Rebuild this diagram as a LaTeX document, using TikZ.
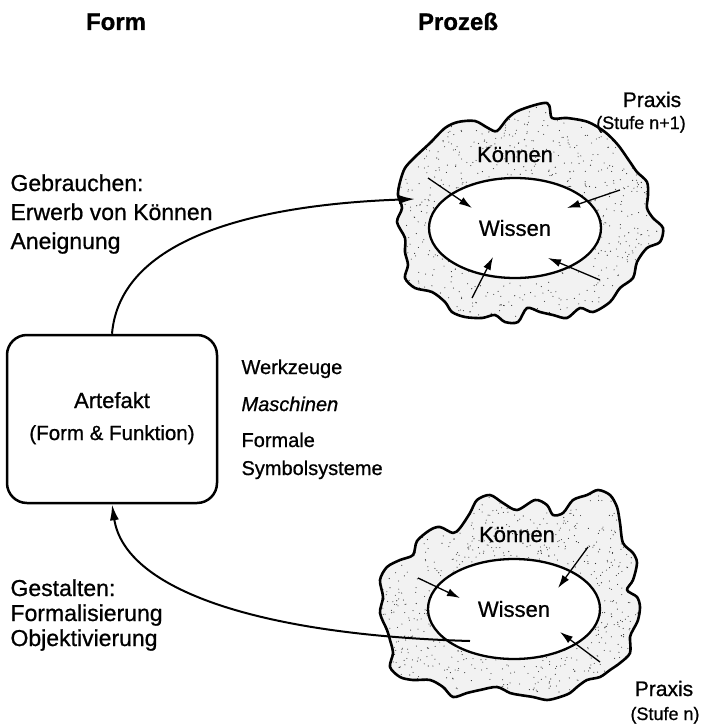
\documentclass[tikz,border=0pt]{standalone}
\usepackage{fontspec}
\setmainfont{Liberation Sans}[FakeBold=0.8]
\usetikzlibrary{arrows.meta,shapes.geometric}

% outline of the upper cloud (Praxis, Stufe n+1)
\newcommand\wolkeOben[1]{#1 plot[smooth cycle,tension=0.5] coordinates {
 (415,157) (430,143) (445,128) (458,122) (475,121) (488,128) (497,131) (508,118)
 (520,110) (547,103) (552,118) (567,118) (588,122) (605,132) (618,145) (630,162)
 (637,172) (647,182) (648,195) (647,208) (653,218) (663,228) (660,242) (647,248)
 (637,262) (633,278) (620,288) (610,302) (593,312) (580,308) (567,318) (553,315)
 (540,312) (527,308) (518,322) (505,322) (495,315) (482,318) (465,317) (452,312)
 (445,302) (432,292) (415,288) (405,278) (408,265) (405,252) (405,238) (397,222)
 (402,208) (398,195) (400,182) (405,168)};}

% outline of the lower cloud (Praxis, Stufe n)
\newcommand\wolkeUnten[1]{#1 plot[smooth cycle,tension=0.5] coordinates {
 (400,560) (413,555) (417,541) (430,530) (440,527) (453,533) (460,528) (470,513)
 (477,500) (490,495) (503,503) (517,510) (535,500) (547,505) (553,515) (563,513)
 (573,500) (587,495) (598,490) (610,495) (617,507) (620,523) (623,543) (633,553)
 (637,563) (633,580) (627,590) (637,597) (640,607) (638,620) (633,630) (630,637)
 (630,653) (620,663) (610,670) (600,677) (587,680) (577,687) (570,693) (560,697)
 (547,700) (533,697) (520,695) (510,693) (497,687) (480,690) (467,693) (453,697)
 (443,687) (430,680) (413,680) (400,677) (390,667) (393,653) (390,640) (387,630)
 (380,613) (383,597) (380,580) (387,567)};}

% stippled filling inside a cloud
\newcommand\punkte[4]{%
  \fill[black!5] (#1,#2) rectangle ({#1+#3},{#2+#4});
  \foreach \k in {1,...,1100}{
    \fill[black!80] ({#1+#3*rnd},{#2+#4*rnd}) circle (0.55pt);
  }}

\tikzset{
  cloudline/.style={line width=2.6pt, line join=round},
  kern/.style={ellipse, draw, line width=2.3pt, fill=white,
    minimum width=172pt, minimum height=100pt, inner sep=0pt,
    font=\fontsize{22}{26}\selectfont},
  koennen/.style={font=\fontsize{22}{26}\selectfont, anchor=base},
  smallarrow/.style={line width=1.3pt, -{Latex[length=13pt,width=8pt]}},
  bigarrow/.style={line width=2pt, -{Latex[length=16pt,width=9pt]}},
  titel/.style={font=\bfseries\fontsize{24}{28}\selectfont, anchor=base},
  seite/.style={font=\fontsize{23}{29}\selectfont, anchor=base west, align=left},
  liste/.style={font=\fontsize{20}{24}\selectfont, anchor=base west},
  praxis/.style={font=\fontsize{21}{25}\selectfont, anchor=base},
  stufe/.style={font=\fontsize{18}{21}\selectfont, anchor=base},
  artefakt/.style={draw, line width=2.5pt, rounded corners=20pt,
    minimum width=210pt, minimum height=168pt, align=center}
}

\begin{document}
\begin{tikzpicture}[x=1pt,y=-1pt]
\useasboundingbox (0,0) rectangle (710,725);
\pgfmathsetseed{11}

% headings
\node[titel] (form) at (116,30) {Form};
\node[titel] (prozess) at (458,30) {Prozeß};

% upper cloud
\begin{scope}
  \wolkeOben{\clip}
  \punkte{390}{95}{280}{235}
\end{scope}
\wolkeOben{\draw[cloudline]}
\node[kern] (wissenO) at (515,228) {Wissen};
\node[koennen] (koennenO) at (515,162) {Können};
\node[praxis] (praxisO) at (652,107) {Praxis};
\node[stufe] (stufeO) at (641,129) {(Stufe n+1)};

% lower cloud
\begin{scope}
  \wolkeUnten{\clip}
  \punkte{375}{485}{270}{220}
\end{scope}
\wolkeUnten{\draw[cloudline]}
\node[kern] (wissenU) at (514,609) {Wissen};
\node[koennen] (koennenU) at (517,542) {Können};
\node[praxis] (praxisU) at (664,696) {Praxis};
\node[stufe] (stufeU) at (665,720) {(Stufe n)};

% small arrows: Können flows into Wissen
\coordinate (o1s) at (428,178); \coordinate (o1e) at (472,208);
\coordinate (o2s) at (620,190); \coordinate (o2e) at (567,208);
\coordinate (o3s) at (600,280); \coordinate (o3e) at (548,258);
\coordinate (o4s) at (472,298); \coordinate (o4e) at (493,257);
\draw[smallarrow] (o1s) -- (o1e);
\draw[smallarrow] (o2s) -- (o2e);
\draw[smallarrow] (o3s) -- (o3e);
\draw[smallarrow] (o4s) -- (o4e);

\coordinate (u1s) at (418,578); \coordinate (u1e) at (460,598);
\coordinate (u2s) at (588,547); \coordinate (u2e) at (558,588);
\coordinate (u3s) at (600,662); \coordinate (u3e) at (560,632);
\draw[smallarrow] (u1s) -- (u1e);
\draw[smallarrow] (u2s) -- (u2e);
\draw[smallarrow] (u3s) -- (u3e);

% artefact
\node[artefakt] (artefakt) at (112,419) {};
\node[font=\fontsize{22}{26}\selectfont, anchor=base] (artT) at (112,408) {Artefakt};
\node[font=\fontsize{20.5}{24}\selectfont, anchor=base] (artU) at (112,440) {(Form \& Funktion)};

\node[liste] (werkzeuge) at (238,374) {Werkzeuge};
\node[liste, font=\itshape\fontsize{20}{24}\selectfont] (maschinen) at (238,411) {Maschinen};
\node[liste] (formale) at (238,447) {Formale};
\node[liste] (symbol) at (238,475) {Symbolsysteme};

% using and shaping
\coordinate (spitzeO) at (415,199);
\coordinate (startU) at (470,641);
\draw[bigarrow] (artefakt.north) .. controls (120,240) and (250,205) .. (spitzeO);
\draw[bigarrow] (startU) .. controls (260,635) and (125,590) .. (artefakt.south);

% multi-line blocks are placed by the baseline of their last line
\node[seite] (gebrauchen) at (7,249) {Gebrauchen:\\Erwerb von Können\\Aneignung};
\node[seite, font=\fontsize{23}{25}\selectfont] (gestalten) at (7,646) {Gestalten:\\Formalisierung\\Objektivierung};
\end{tikzpicture}
\end{document}
